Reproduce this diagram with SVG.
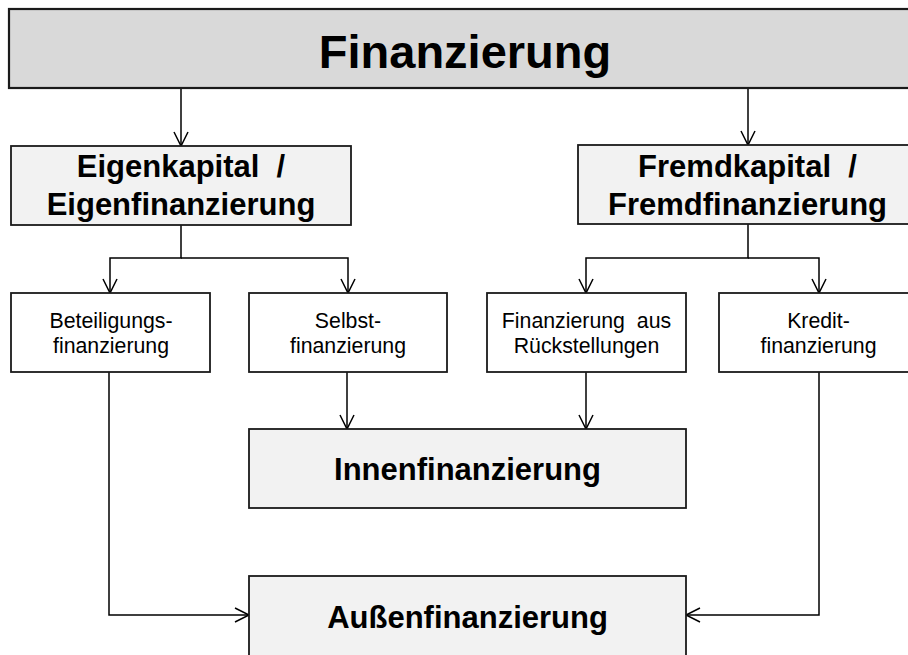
<svg xmlns="http://www.w3.org/2000/svg" width="908" height="655" viewBox="0 0 908 655">
<defs>
<marker id="arr" markerUnits="userSpaceOnUse" markerWidth="20" markerHeight="20" viewBox="-16 -10 20 20" refX="0" refY="0" orient="auto">
<path d="M-14,-7 L0,0 L-14,7" fill="none" stroke="#000" stroke-width="1.5"/>
</marker>
</defs>
<style>
.box{stroke:#1a1a1a;stroke-width:1.8}
.top{fill:#d9d9d9;stroke:#1a1a1a;stroke-width:2.2}
.grey{fill:#f2f2f2}
.white{fill:#fff}
.big{font-family:"Liberation Sans",Arial,sans-serif;font-weight:bold;font-size:31px;text-anchor:middle;fill:#000}
.title{font-family:"Liberation Sans",Arial,sans-serif;font-weight:bold;font-size:47px;text-anchor:middle;fill:#000}
.small{font-family:"Liberation Sans",Arial,sans-serif;font-size:21.3px;text-anchor:middle;fill:#000}
.con{fill:none;stroke:#000;stroke-width:1.5}
</style>
<rect width="908" height="655" fill="#fff"/>
<g id="connectors">
<polyline class="con" points="181,88 181,146" marker-end="url(#arr)"/>
<polyline class="con" points="748,88 748,145" marker-end="url(#arr)"/>
<polyline class="con" points="181,225 181,258 110,258 110,293" marker-end="url(#arr)"/>
<polyline class="con" points="181,258 348,258 348,293" marker-end="url(#arr)"/>
<polyline class="con" points="748,224 748,258 586,258 586,293" marker-end="url(#arr)"/>
<polyline class="con" points="748,258 819,258 819,293" marker-end="url(#arr)"/>
<polyline class="con" points="347,372 347,429" marker-end="url(#arr)"/>
<polyline class="con" points="586,372 586,429" marker-end="url(#arr)"/>
<polyline class="con" points="109,372 109,615 249,615" marker-end="url(#arr)"/>
<polyline class="con" points="819,372 819,615 686,615" marker-end="url(#arr)"/>
</g>
<g id="finanzierung">
<rect class="top" x="9" y="9" width="915" height="79"/>
<text class="title" x="465" y="68">Finanzierung</text>
</g>
<g id="eigenkapital">
<rect class="box grey" x="11" y="146" width="340" height="79"/>
<text class="big" x="181" y="177" xml:space="preserve">Eigenkapital  /</text>
<text class="big" x="181" y="215">Eigenfinanzierung</text>
</g>
<g id="fremdkapital">
<rect class="box grey" x="578" y="145" width="340" height="79"/>
<text class="big" x="747.5" y="177" xml:space="preserve">Fremdkapital  /</text>
<text class="big" x="747.5" y="215">Fremdfinanzierung</text>
</g>
<g id="beteiligung">
<rect class="box white" x="11" y="293" width="199" height="79"/>
<text class="small" x="111" y="328">Beteiligungs-</text>
<text class="small" x="111" y="353">finanzierung</text>
</g>
<g id="selbst">
<rect class="box white" x="249" y="293" width="198" height="79"/>
<text class="small" x="348" y="328">Selbst-</text>
<text class="small" x="348" y="353">finanzierung</text>
</g>
<g id="rueckstellungen">
<rect class="box white" x="487" y="293" width="199" height="79"/>
<text class="small" x="586.5" y="328" xml:space="preserve">Finanzierung  aus</text>
<text class="small" x="586.5" y="353">Rückstellungen</text>
</g>
<g id="kredit">
<rect class="box white" x="719" y="293" width="200" height="79"/>
<text class="small" x="818.5" y="328">Kredit-</text>
<text class="small" x="818.5" y="353">finanzierung</text>
</g>
<g id="innen">
<rect class="box grey" x="249" y="429" width="437" height="79"/>
<text class="big" x="467.5" y="480">Innenfinanzierung</text>
</g>
<g id="aussen">
<rect class="box grey" x="249" y="576" width="437" height="90"/>
<text class="big" x="467.5" y="628">Außenfinanzierung</text>
</g>
</svg>
